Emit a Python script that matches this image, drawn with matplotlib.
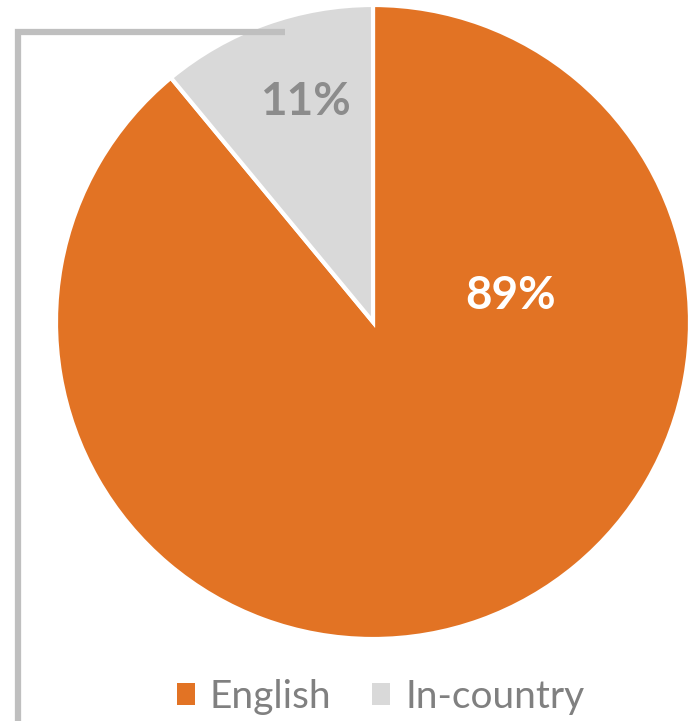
import matplotlib.pyplot as plt

labels = ["English", "In-country"]
shares = [89, 11]
colors = ["#E27324", "#D9D9D9"]
label_colors = ["white", "#8C8C8C"]

W, H = 693, 721
fig = plt.figure(figsize=(W / 100, H / 100), dpi=100)
ax = fig.add_axes([0, 0, 1, 1])

cx, cy, r = 373, H - 322, 317

# pie runs clockwise starting at 12 o'clock, In-country slice ends up top-left
wedges, _ = ax.pie(shares, colors=colors, startangle=90, counterclock=False,
                   center=(cx, cy), radius=r, frame=True,
                   wedgeprops=dict(edgecolor="white", linewidth=3))
ax.set_xlim(0, W)
ax.set_ylim(0, H)
ax.set_aspect("equal")
ax.axis("off")

# percent labels
ax.text(511, H - 296, f"{shares[0]}%", color=label_colors[0], fontsize=33,
        fontweight="bold", ha="center", va="center", family="Lato")
ax.text(305, H - 102, f"{shares[1]}%", color=label_colors[1], fontsize=33,
        fontweight="bold", ha="center", va="center", family="Lato")

# grey bracket on the left
ax.plot([285, 18, 18], [H - 32, H - 32, 0], color="#BFBFBF", lw=4.5,
        solid_capstyle="butt", solid_joinstyle="miter")

leg = ax.legend(wedges, labels, loc="lower center", bbox_to_anchor=(0.549, -0.04),
                ncol=2, frameon=False, labelcolor="#808080",
                handlelength=0.47, handleheight=0.47, handletextpad=0.38,
                columnspacing=1.05, prop={"family": "Lato", "size": 28})
for h in leg.legend_handles:
    h.set_edgecolor("none")

fig.savefig("out.png", dpi=100)
